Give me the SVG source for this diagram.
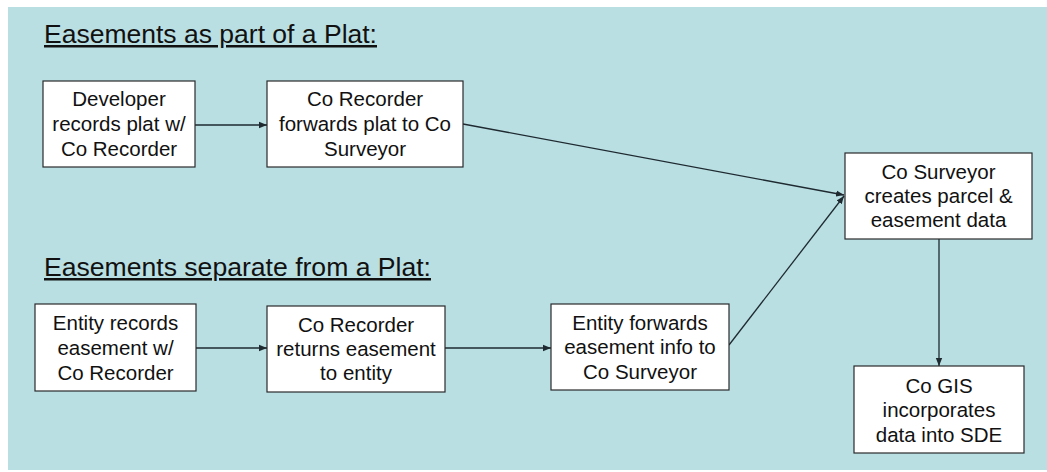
<svg xmlns="http://www.w3.org/2000/svg" width="1047" height="472" viewBox="0 0 1047 472">
<style>
.bg{fill:#b9dfe3}
.box{fill:#ffffff;stroke:#2a2a2a;stroke-width:1.2}
.t{font-family:"Liberation Sans",Arial,sans-serif;font-size:20.5px;fill:#111;text-anchor:middle}
.title{font-family:"Liberation Sans",Arial,sans-serif;font-size:25px;fill:#111;text-decoration:underline}
.ln{stroke:#1e2a30;stroke-width:1.3;fill:none;marker-end:url(#ah)}
</style>
<defs>
<marker id="ah" viewBox="0 0 10 10" refX="10" refY="5" markerWidth="8" markerHeight="8" markerUnits="userSpaceOnUse" orient="auto">
<path d="M0,1 L10,5 L0,9 Z" fill="#1e2a30"/>
</marker>
</defs>
<rect x="0" y="0" width="1047" height="472" fill="#ffffff"/>
<rect class="bg" x="8" y="7" width="1039" height="463"/>
<text class="title" x="44" y="43" textLength="333" lengthAdjust="spacingAndGlyphs">Easements as part of a Plat:</text>
<text class="title" x="44" y="276" textLength="387" lengthAdjust="spacingAndGlyphs">Easements separate from a Plat:</text>
<g id="connectors">
<line class="ln" x1="195" y1="125" x2="267" y2="125"/>
<line class="ln" x1="463" y1="124" x2="844" y2="195"/>
<line class="ln" x1="196" y1="348" x2="267" y2="348"/>
<line class="ln" x1="445" y1="348" x2="551" y2="348"/>
<line class="ln" x1="729" y1="345" x2="844" y2="196"/>
<line class="ln" x1="939" y1="239" x2="939" y2="366"/>
</g>
<g id="n1">
<rect class="box" x="43" y="81" width="152" height="86"/>
<text class="t" x="119" y="106">Developer</text>
<text class="t" x="119" y="131">records plat w/</text>
<text class="t" x="119" y="156">Co Recorder</text>
</g>
<g id="n2">
<rect class="box" x="267" y="81" width="196" height="86"/>
<text class="t" x="365" y="106">Co Recorder</text>
<text class="t" x="365" y="131">forwards plat to Co</text>
<text class="t" x="365" y="156">Surveyor</text>
</g>
<g id="n3">
<rect class="box" x="845" y="153" width="187" height="86"/>
<text class="t" x="938.5" y="179">Co Surveyor</text>
<text class="t" x="938.5" y="203">creates parcel &amp;</text>
<text class="t" x="938.5" y="227">easement data</text>
</g>
<g id="n4">
<rect class="box" x="35" y="304" width="161" height="87"/>
<text class="t" x="115.5" y="330">Entity records</text>
<text class="t" x="115.5" y="355">easement w/</text>
<text class="t" x="115.5" y="380">Co Recorder</text>
</g>
<g id="n5">
<rect class="box" x="267" y="306" width="178" height="86"/>
<text class="t" x="356" y="332">Co Recorder</text>
<text class="t" x="356" y="356">returns easement</text>
<text class="t" x="356" y="380">to entity</text>
</g>
<g id="n6">
<rect class="box" x="551" y="304" width="178" height="86"/>
<text class="t" x="640" y="330">Entity forwards</text>
<text class="t" x="640" y="354">easement info to</text>
<text class="t" x="640" y="379">Co Surveyor</text>
</g>
<g id="n7">
<rect class="box" x="854" y="366" width="170" height="87"/>
<text class="t" x="939" y="393">Co GIS</text>
<text class="t" x="939" y="417">incorporates</text>
<text class="t" x="939" y="442">data into SDE</text>
</g>
</svg>
